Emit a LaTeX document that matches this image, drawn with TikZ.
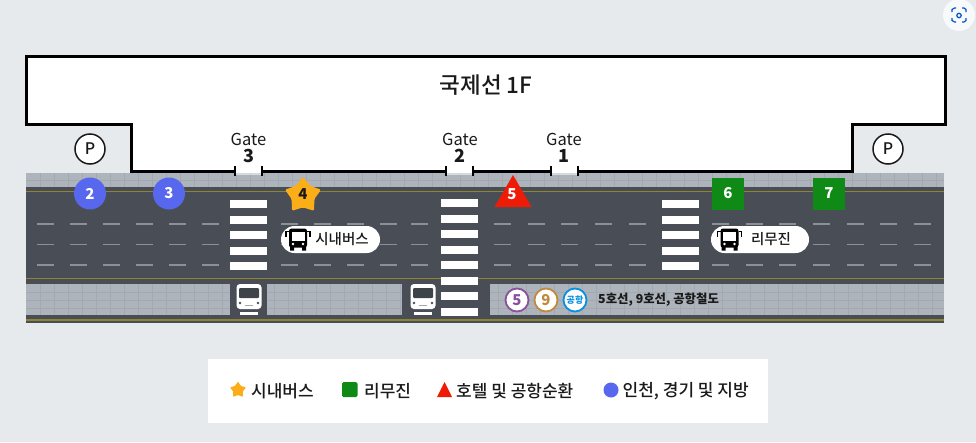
\documentclass[tikz,border=0pt]{standalone}
\usepackage{fontspec}
\setmainfont{Noto Sans CJK KR}
\newfontfamily\medkr{Noto Sans CJK KR Medium}
\usetikzlibrary{shapes.geometric}
\definecolor{bgc}{HTML}{E6EAED}
\definecolor{walk}{HTML}{ADB4BC}
\definecolor{gridc}{HTML}{A2A9B1}
\definecolor{road}{HTML}{494E56}
\definecolor{yel}{HTML}{8F8430}
\definecolor{dashc}{HTML}{8C9096}
\definecolor{ink}{HTML}{1A1A1A}
\definecolor{bluec}{HTML}{5767EE}
\definecolor{greenc}{HTML}{0F8A17}
\definecolor{redc}{HTML}{EE1C06}
\definecolor{orangec}{HTML}{FBAE17}
\definecolor{line5}{HTML}{8A4F9E}
\definecolor{line9}{HTML}{C08A3E}
\definecolor{lineap}{HTML}{0A8FE0}
\tikzset{
  x=1pt,y=-1pt,
  wall/.style={draw=black,line width=3pt,miter limit=4},
  tick/.style={draw=black,line width=2pt},
  stripe/.style={fill=white,draw=none},
  lane/.style={draw=dashc,line width=1.6pt},
  yline/.style={draw=yel,line width=1.5pt},
  gridl/.style={draw=gridc,line width=.35pt},
  lab/.style={inner sep=0pt,font=\fontsize{16.5}{16.5}\selectfont,text=ink},
  gatenum/.style={inner sep=0pt,font=\fontsize{18}{18}\selectfont\bfseries,text=ink},
  stopnum/.style={inner sep=0pt,font=\fontsize{15}{15}\selectfont\bfseries,text=white},
  legend/.style={inner sep=0pt,anchor=west,font=\medkr\fontsize{17}{17}\selectfont,text=ink},
  pcirc/.style={circle,draw=ink,fill=white,line width=1.5pt,minimum size=30pt,inner sep=0pt,font=\medkr\fontsize{16}{16}\selectfont,text=ink},
  bluestop/.style={circle,fill=bluec,minimum size=32pt,inner sep=0pt},
  greenstop/.style={rectangle,fill=greenc,minimum size=32pt,inner sep=0pt},
  pill/.style={fill=white,rounded corners=13.5pt,draw=none},
  metro/.style={circle,fill=white,line width=1.8pt,minimum size=23pt,inner sep=0pt,font=\fontsize{15}{15}\selectfont\bfseries},
}
\newcommand{\stripes}[3]{% x, first y, count
  \foreach \k in {1,...,#3}{\fill[stripe] (#1,{#2+15.5*(\k-1)}) rectangle ++(37,8);}}
\newcommand{\lanes}[2]{% x list, y
  \foreach \d in {#1}{\draw[lane] (\d,#2) -- ++(17,0);}}
\newcommand{\busfront}[1]{% x centre, top y 284
  \fill[white,rounded corners=3.5pt] (#1-12.5,284) rectangle (#1+12.5,309);
  \fill[road!85!black,rounded corners=1pt] (#1-10,288) rectangle (#1+10,298);
  \fill[road] (#1-9,303) circle (1.4) (#1+9,303) circle (1.4);
  \fill[gray!70] (#1-4,305) rectangle (#1+4,306);
  \fill[white] (#1-9,312) rectangle (#1+9,314.5);
}
\newcommand{\busicon}[2]{% centre x, y
  \fill[black,rounded corners=2.5pt] (#1-9,#2-11) rectangle (#1+9,#2+8);
  \fill[white] (#1-6.5,#2-7.5) rectangle (#1+6.5,#2+1.5);
  \fill[white] (#1-5,#2+4.5) circle (1.4) (#1+5,#2+4.5) circle (1.4);
  \fill[black] (#1-8,#2+7) rectangle (#1-4,#2+11) (#1+4,#2+7) rectangle (#1+8,#2+11);
  \draw[black,line width=1.5pt] (#1-9,#2-8) -- (#1-12,#2-8) -- (#1-12,#2-3) (#1+9,#2-8) -- (#1+12,#2-8) -- (#1+12,#2-3);
}
\begin{document}
\begin{tikzpicture}
\useasboundingbox (0,0) rectangle (976,442);
\fill[bgc] (0,0) rectangle (976,442);
% screen icon
\fill[white!70!bgc] (959,15) circle (16);
\begin{scope}[line width=1.2pt]
\draw[draw=blue!60!cyan!80!black] (952,12) -- (952,9.5) -- (954.5,8) -- (956,8) (962,8) -- (964,8) -- (966,9.5) -- (966,12)
 (966,18) -- (966,20.5) -- (964,22) -- (962,22) (956,22) -- (954.5,22) -- (952,20.5) -- (952,18);
\draw[draw=blue!60!cyan!80!black] (959,15.5) circle (2.2);
\end{scope}
% building
\fill[white] (26,56) -- (945,56) -- (945,124) -- (852,124) -- (852,171) -- (131,171) -- (131,124) -- (26,124) -- cycle;
\draw[wall] (26,56) -- (945,56) -- (945,124) -- (852,124) -- (852,171) -- (131,171) -- (131,124) -- (26,124) -- cycle;
% gate openings
\foreach \a/\b in {235/262,446/473,551/578}{
  \fill[white] (\a,168) rectangle (\b,173.5);
}
% street
\fill[road] (26,187) rectangle (944,323);
\fill[walk] (26,173) rectangle (944,187);
\fill[walk] (26,284) rectangle (230,315);
\fill[walk] (267,284) rectangle (402,315);
\fill[walk] (490,284) rectangle (944,315);
\foreach \g in {40,54,...,936}{
  \draw[gridl] (\g,173) -- (\g,187);
}
\draw[gridl] (26,180) -- (944,180);
\foreach \g in {40,54,...,222}{\draw[gridl] (\g,284) -- (\g,315);}
\foreach \g in {274,288,...,400}{\draw[gridl] (\g,284) -- (\g,315);}
\foreach \g in {498,512,...,936}{\draw[gridl] (\g,284) -- (\g,315);}
\foreach \a/\b in {26/230,267/402,490/944}{
  \draw[gridl] (\a,292) -- (\b,292) (\a,300) -- (\b,300) (\a,308) -- (\b,308);
}
\foreach \a/\b in {235/262,446/473,551/578}{
  \fill[white,opacity=.5] (\a,172.8) rectangle (\b,175);
  \draw[tick] (\a,166) -- (\a,176);
  \draw[tick] (\b,166) -- (\b,176);
}
\draw[yline] (26,191.5) -- (944,191.5);
\draw[yline] (26,278.5) -- (944,278.5);
\draw[yline] (26,320) -- (944,320);
% lane dashes
\foreach \y in {224,244.5,265}{
  \lanes{37,70,103,136,169,202,281,314,347,380,411,494,528,561,595,629,712,746,779,813,847,880,914}{\y}
}
% crossings
\stripes{230}{200}{5}
\stripes{441}{199}{8}
\stripes{662}{200}{5}
% buses
\busfront{249}
\busfront{423}
% P
\node[pcirc] (pl) at (90,149) {P};
\node[pcirc] (pr) at (888,149) {P};
% gate labels
\node[lab] (g3) at (248.5,139) {Gate};
\node[gatenum] (n3) at (248.5,156) {3};
\node[lab] (g2) at (460,139) {Gate};
\node[gatenum] (n2) at (460,156) {2};
\node[lab] (g1) at (564,139) {Gate};
\node[gatenum] (n1) at (564,156) {1};
% title
\node[inner sep=0pt,font=\medkr\fontsize{22.5}{22.5}\selectfont,text=ink] (title) at (486,85) {국제선 1F};
% stops
\node[bluestop] (s2) at (90,193.5) {}; \node[stopnum] at (s2) {2};
\node[bluestop] (s3) at (169,193.5) {}; \node[stopnum] at (s3) {3};
\node[star,star points=5,star point ratio=1.6,fill=orangec,minimum size=38pt,inner sep=0pt,rounded corners=1.5pt] (s4) at (303,195.5) {};
\node[inner sep=0pt,font=\fontsize{15}{15}\selectfont\bfseries,text=ink] at (303,194) {4};
\fill[redc] (513,175) -- (531.5,207) -- (494.5,207) -- cycle;
\node[stopnum] (s5) at (512,194.5) {5};
\node[greenstop] (s6) at (728,193.5) {}; \node[stopnum] at (s6) {6};
\node[greenstop] (s7) at (829,193.5) {}; \node[stopnum] at (s7) {7};
% pills
\fill[pill] (281,226) rectangle (380,253);
\busicon{298}{239.5}
\node[inner sep=0pt,font=\medkr\fontsize{14.5}{14.5}\selectfont,text=ink] (pa) at (342,239.5) {시내버스};
\fill[pill] (711,226) rectangle (809,253);
\busicon{729.5}{239.5}
\node[inner sep=0pt,font=\medkr\fontsize{14.5}{14.5}\selectfont,text=ink] (pb) at (771,239.5) {리무진};
% metro
\node[metro,draw=line5,text=line5] (m5) at (517,300) {5};
\node[metro,draw=line9,text=line9] (m9) at (546,300) {9};
\node[metro,draw=lineap,text=lineap,font=\fontsize{9}{9}\selectfont\bfseries] (ma) at (575,300) {공항};
\node[inner sep=0pt,anchor=west,font=\fontsize{12.4}{12.4}\selectfont\bfseries,text=ink] (mt) at (598,300) {5호선, 9호선, 공항철도};
% legend
\fill[white] (208,359) rectangle (768,423);
\node[star,star points=5,star point ratio=1.7,fill=orangec,minimum size=17pt,inner sep=0pt,rounded corners=.8pt] (k1) at (238,390) {};
\node[legend] (t1) at (251,391) {시내버스};
\fill[greenc,rounded corners=1.5pt] (342,382) rectangle ++(15.5,15);
\node[legend] (t2) at (364,391) {리무진};
\fill[redc] (444.5,382) -- (452,397) -- (437,397) -- cycle;
\node[legend] (t3) at (456,391) {호텔 및 공항순환};
\fill[bluec] (611,390) circle (7.5);
\node[legend] (t4) at (622.5,391) {인천, 경기 및 지방};
\end{tikzpicture}
\end{document}
